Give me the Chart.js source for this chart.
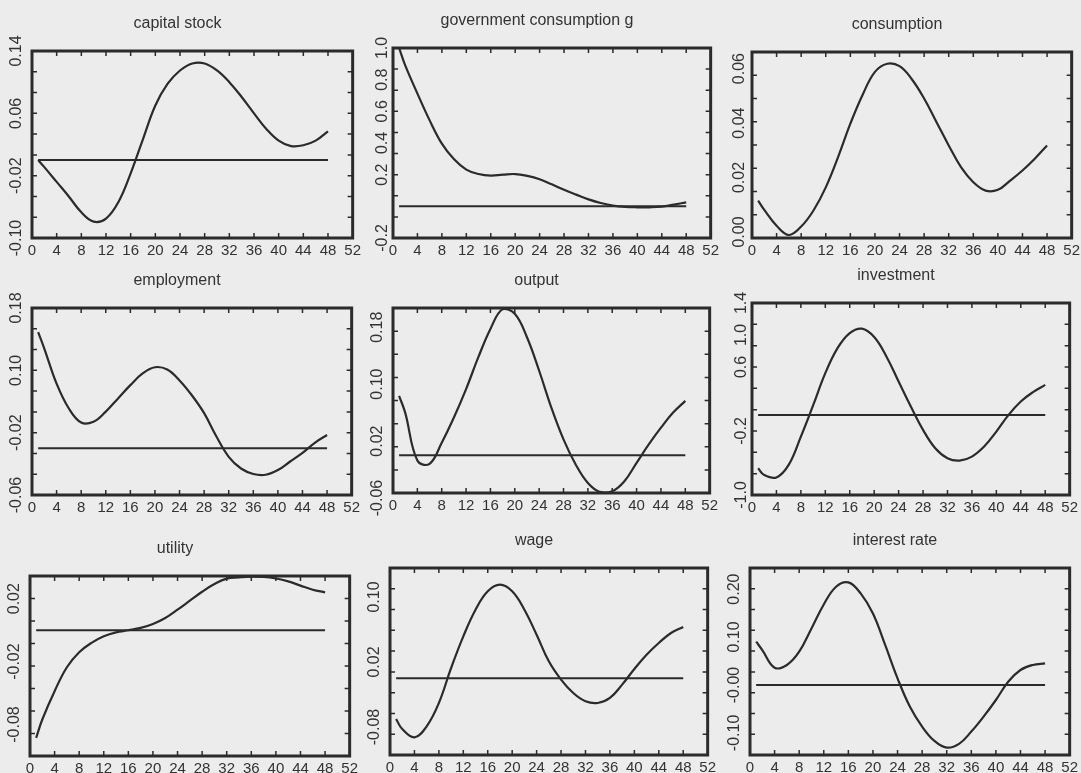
<!DOCTYPE html>
<html>
<head>
<meta charset="utf-8">
<title>impulse responses</title>
<script src="https://cdn.jsdelivr.net/npm/chart.js@4.4.1/dist/chart.umd.min.js"></script>
<style>
  html, body { margin: 0; padding: 0; }
  body { width: 1081px; height: 773px; background: #ececec; position: relative; overflow: hidden; }
  canvas { position: absolute; }
</style>
</head>
<body>
<canvas id="p1"></canvas>
<canvas id="p2"></canvas>
<canvas id="p3"></canvas>
<canvas id="p4"></canvas>
<canvas id="p5"></canvas>
<canvas id="p6"></canvas>
<canvas id="p7"></canvas>
<canvas id="p8"></canvas>
<canvas id="p9"></canvas>
<script>
// periods (quarters) after the shock, shared by all nine panels
const periods = [1, 2, 4, 6, 8, 10, 12, 14, 16, 18, 20, 22, 24, 26, 28, 30, 32, 34, 36, 38, 40, 42, 44, 46, 48];
const xTickValues = [0, 4, 8, 12, 16, 20, 24, 28, 32, 36, 40, 44, 48, 52];
const zeroLineEnds = [1, 48];

// responses
const capitalStock = [0.0, -0.009, -0.028, -0.047, -0.067, -0.079, -0.075, -0.054, -0.017, 0.027, 0.070, 0.098, 0.115,
  0.124, 0.124, 0.115, 0.100, 0.081, 0.060, 0.040, 0.025, 0.018, 0.019, 0.025, 0.037];
const govConsumption = [1.0, 0.89, 0.712, 0.543, 0.396, 0.297, 0.232, 0.204, 0.194, 0.2, 0.204, 0.192, 0.171,
  0.139, 0.105, 0.074, 0.044, 0.021, 0.004, -0.004, -0.006, -0.006, -0.002, 0.011, 0.025];
const consumption = [0.0115, 0.0081, 0.0023, -0.0011, 0.0020, 0.0079, 0.0164, 0.0275, 0.0398, 0.0504, 0.0588, 0.0618, 0.0609,
  0.0561, 0.0490, 0.0404, 0.0318, 0.0238, 0.0183, 0.0152, 0.0155, 0.0189, 0.0226, 0.0269, 0.0318];
const employment = [0.149, 0.128, 0.083, 0.051, 0.033, 0.034, 0.047, 0.064, 0.081, 0.096, 0.104, 0.101, 0.087,
  0.068, 0.045, 0.015, -0.011, -0.026, -0.033, -0.034, -0.028, -0.017, -0.006, 0.007, 0.017];
const output = [0.0835, 0.06, -0.0073, -0.012, 0.0176, 0.053, 0.093, 0.1376, 0.1776, 0.2054, 0.1988, 0.1659, 0.1188,
  0.0671, 0.0224, -0.0129, -0.0388, -0.0515, -0.0506, -0.0365, -0.0106, 0.0153, 0.0388, 0.06, 0.0765];
const investment = [-0.666, -0.75, -0.78, -0.624, -0.27, 0.12, 0.523, 0.836, 1.024, 1.079, 0.974, 0.732, 0.419,
  0.106, -0.186, -0.416, -0.541, -0.570, -0.52, -0.395, -0.207, 0.002, 0.169, 0.286, 0.377];
const utility = [-0.0685, -0.0568, -0.0388, -0.0236, -0.0141, -0.0081, -0.0039, -0.0014, -0.0001, 0.0014, 0.0039, 0.0077, 0.0130,
  0.0187, 0.0244, 0.0293, 0.0327, 0.0335, 0.034, 0.0338, 0.0328, 0.0310, 0.0283, 0.0257, 0.0240];
const wage = [-0.0502, -0.0625, -0.0727, -0.0592, -0.0305, 0.0126, 0.0516, 0.0844, 0.107, 0.1152, 0.107, 0.0844, 0.0536,
  0.0208, -0.0017, -0.0182, -0.0284, -0.0305, -0.0243, -0.0079, 0.0114, 0.029, 0.0434, 0.0557, 0.0631];
const interestRate = [0.0903, 0.0729, 0.0361, 0.0417, 0.0694, 0.118, 0.168, 0.205, 0.214, 0.191, 0.149, 0.083, 0.0139,
  -0.045, -0.0868, -0.1167, -0.1306, -0.1229, -0.0972, -0.066, -0.0313, 0.0069, 0.0313, 0.0417, 0.0451];

// y tick positions and the text printed at them
const capitalTicks = [0.14, 0.06, -0.02, -0.10];
const capitalLabels = ["0.14", "0.06", "-0.02", "-0.10"];
const govTicks = [1.0, 0.8, 0.6, 0.4, 0.2, -0.2];
const govLabels = ["1.0", "0.8", "0.6", "0.4", "0.2", "-0.2"];
const consTicks = [0.06, 0.04, 0.02, 0.0];
const consLabels = ["0.06", "0.04", "0.02", "0.00"];
const emplTicks = [0.18, 0.10, 0.02, -0.06];
const emplLabels = ["0.18", "0.10", "-0.02", "-0.06"];
const outTicks = [0.18, 0.10, 0.02, -0.06];
const outLabels = ["0.18", "0.10", "0.02", "-0.06"];
const invTicks = [1.4, 1.0, 0.6, -0.2, -1.0];
const invLabels = ["1.4", "1.0", "0.6", "-0.2", "-1.0"];
const utilTicks = [0.02, -0.02, -0.06];
const utilLabels = ["0.02", "-0.02", "-0.08"];
const wageTicks = [0.10, 0.02, -0.06];
const wageLabels = ["0.10", "0.02", "-0.08"];
const rateTicks = [0.20, 0.10, 0.0, -0.10];
const rateLabels = ["0.20", "0.10", "-0.00", "-0.10"];

const ink = "#2b2b2b";
const fontFamily = "'Liberation Sans', Arial, Helvetica, sans-serif";

const panels = [
  { id: "p1", title: "capital stock", values: capitalStock, ticks: capitalTicks, labels: capitalLabels, min: -0.10, max: 0.14, zero: true, box: [32, 51, 353, 238] },
  { id: "p2", title: "government consumption g", values: govConsumption, ticks: govTicks, labels: govLabels, min: -0.2, max: 1.0, zero: true, box: [393, 48, 711, 238] },
  { id: "p3", title: "consumption", values: consumption, ticks: consTicks, labels: consLabels, min: -0.0022, max: 0.0661, zero: false, box: [752, 52, 1072, 238] },
  { id: "p4", title: "employment", values: employment, ticks: emplTicks, labels: emplLabels, min: -0.06, max: 0.18, zero: true, box: [32, 308, 352, 495] },
  { id: "p5", title: "output", values: output, ticks: outTicks, labels: outLabels, min: -0.053, max: 0.207, zero: true, box: [393, 308, 710, 493] },
  { id: "p6", title: "investment", values: investment, ticks: invTicks, labels: invLabels, min: -1.0, max: 1.4, zero: true, box: [752, 303, 1070, 495] },
  { id: "p7", title: "utility", values: utility, ticks: utilTicks, labels: utilLabels, min: -0.080, max: 0.0344, zero: true, box: [30, 576, 350, 756] },
  { id: "p8", title: "wage", values: wage, ticks: wageTicks, labels: wageLabels, min: -0.0945, max: 0.1357, zero: true, box: [390, 568, 708, 755] },
  { id: "p9", title: "interest rate", values: interestRate, ticks: rateTicks, labels: rateLabels, min: -0.146, max: 0.244, zero: true, box: [750, 568, 1070, 755] },
];

const AXIS_W = 30;
const TITLE_H = 46;
const RIGHT_PAD = 12;
const XAXIS_H = 24;

// thick frame with small inward ticks on all four sides
const framePlugin = {
  id: "frame",
  afterDraw(chart) {
    const { ctx, chartArea: a, scales } = chart;
    ctx.save();
    ctx.strokeStyle = ink;
    ctx.lineWidth = 1.5;
    ctx.beginPath();
    xTickValues.forEach((v) => {
      if (v <= 0 || v >= 52) return;
      const px = scales.x.getPixelForValue(v);
      ctx.moveTo(px, a.top); ctx.lineTo(px, a.top + 5);
      ctx.moveTo(px, a.bottom); ctx.lineTo(px, a.bottom - 5);
    });
    const n = Math.round((a.bottom - a.top) / 22);
    for (let i = 1; i < n; i++) {
      const py = a.top + (a.bottom - a.top) * i / n;
      ctx.moveTo(a.left, py); ctx.lineTo(a.left + 5, py);
      ctx.moveTo(a.right, py); ctx.lineTo(a.right - 5, py);
    }
    ctx.stroke();
    ctx.lineWidth = 3;
    ctx.strokeRect(a.left, a.top, a.right - a.left, a.bottom - a.top);
    ctx.restore();
  },
};

panels.forEach((p) => {
  const canvas = document.getElementById(p.id);
  const [l, t, r, b] = p.box;
  canvas.width = r - l + AXIS_W + RIGHT_PAD;
  canvas.height = b - t + TITLE_H + XAXIS_H;
  canvas.style.left = (l - AXIS_W) + "px";
  canvas.style.top = (t - TITLE_H) + "px";

  const datasets = [
    {
      data: periods.map((x, i) => ({ x, y: p.values[i] })),
      borderColor: ink,
      borderWidth: 2.2,
      pointRadius: 0,
      tension: 0.4,
      fill: false,
    },
  ];
  if (p.zero) {
    datasets.push({
      data: zeroLineEnds.map((x) => ({ x, y: 0 })),
      borderColor: ink,
      borderWidth: 2,
      pointRadius: 0,
      fill: false,
    });
  }

  new Chart(canvas.getContext("2d"), {
    type: "line",
    data: { datasets },
    options: {
      responsive: false,
      animation: false,
      layout: { padding: { left: 0, right: RIGHT_PAD, top: 0, bottom: 0 } },
      plugins: {
        legend: { display: false },
        tooltip: { enabled: false },
        title: {
          display: true,
          text: p.title,
          color: "#333",
          font: { family: fontFamily, size: 16, weight: "normal", lineHeight: 1 },
          padding: { top: 11, bottom: 19 },
        },
      },
      scales: {
        x: {
          type: "linear",
          min: 0,
          max: 52,
          afterBuildTicks: (s) => { s.ticks = xTickValues.map((v) => ({ value: v })); },
          afterFit: (s) => { s.height = XAXIS_H; },
          grid: { display: false, drawTicks: false },
          border: { display: false },
          ticks: { autoSkip: false, maxRotation: 0, padding: 4, color: "#333", font: { family: fontFamily, size: 15 } },
        },
        y: {
          type: "linear",
          min: p.min,
          max: p.max,
          afterBuildTicks: (s) => { s.ticks = p.ticks.map((v) => ({ value: v })); },
          afterFit: (s) => { s.width = AXIS_W; },
          grid: { display: false, drawTicks: false },
          border: { display: false },
          ticks: {
            autoSkip: false,
            minRotation: 90,
            maxRotation: 90,
            crossAlign: "center",
            padding: -3,
            color: "#333",
            font: { family: fontFamily, size: 16 },
            callback: (value, index) => p.labels[index],
          },
        },
      },
    },
    plugins: [framePlugin],
  });
});
</script>
</body>
</html>
